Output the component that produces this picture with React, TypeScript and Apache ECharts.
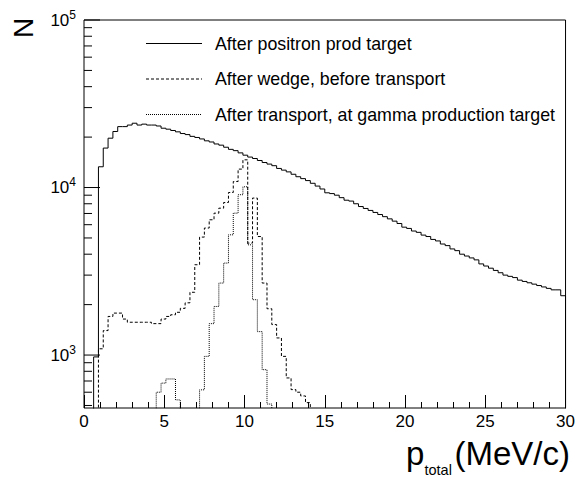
import React, { useEffect, useRef } from "react";
import * as echarts from "echarts";

// ---- data (bin width 0.3 MeV/c, bins start at 0) ----
const BIN_WIDTH = 0.3;

// "After positron prod target": first bin index 2 (0.6 MeV/c)
const positronStart = 2;
const positronValues = [
  975, 13300, 17200, 19700, 21600, 23100, 23100, 23600, 24200, 23600,
  23900, 23600, 23600, 23300, 22600, 22300, 21900, 21500, 21000, 20700,
  20200, 19900, 19500, 19000, 18700, 18200, 17900, 17400, 16900, 16600,
  16100, 15600, 15200, 14900, 14500, 14100, 13800, 13500, 13000, 12700,
  12400, 12000, 11600, 11300, 11000, 10600, 10200, 9800, 9300, 9200,
  9000, 8700, 8400, 8300, 8000, 7700, 7500, 7300, 7100, 6900,
  6700, 6500, 6300, 6100, 5800, 5700, 5500, 5400, 5200, 5100,
  4900, 4800, 4600, 4500, 4300, 4200, 4000, 3900, 3800, 3700,
  3500, 3400, 3300, 3200, 3100, 3000, 2950, 2900, 2800, 2750,
  2700, 2650, 2600, 2550, 2500, 2450, 2450, 2260,
];

// "After wedge, before transport": first bin index 3 (0.9 MeV/c)
const wedgeStart = 3;
const wedgeValues = [
  1090, 1400, 1700, 1780, 1780, 1640, 1570, 1570, 1570, 1570,
  1570, 1540, 1540, 1640, 1700, 1740, 1800, 1900, 2050, 2370,
  3460, 5060, 5730, 6420, 7030, 7530, 8140, 9340, 10860, 12880,
  14630, 4660, 8650, 5100, 2690, 1890, 1520, 1265, 982, 730,
  622, 600, 570, 520,
];

// "After transport, at gamma production target": first bin index 15 (4.5 MeV/c)
const transportStart = 15;
const transportValues = [
  600, 680, 720, 720, 540, 0, 0, 0, 0, 620,
  982, 1540, 1950, 2690, 3540, 5220, 7030, 9060, 10100, 4550,
  2140, 1380, 818, 510,
];

const seriesNames = [
  "After positron prod target",
  "After wedge, before transport",
  "After transport, at gamma production target",
];

const yMajorTicks = [1000, 10000, 100000];
const yMinorTicks = [
  500, 600, 700, 800, 900,
  2000, 3000, 4000, 5000, 6000, 7000, 8000, 9000,
  20000, 30000, 40000, 50000, 60000, 70000, 80000, 90000,
];

const FONT = "'Liberation Sans', Arial, Helvetica, sans-serif";
const FLOOR = 1; // stands for empty bins on the log axis (drawn below the frame)

function stepPoints(start: number, values: number[]): number[][] {
  const pts: number[][] = [];
  const x0 = +(start * BIN_WIDTH).toFixed(4);
  pts.push([x0, FLOOR]);
  values.forEach((v, i) => {
    pts.push([+((start + i) * BIN_WIDTH).toFixed(4), v > 0 ? v : FLOOR]);
  });
  pts.push([+((start + values.length) * BIN_WIDTH).toFixed(4), FLOOR]);
  return pts;
}

export default function App() {
  const ref = useRef<HTMLDivElement>(null);

  useEffect(() => {
    if (!ref.current) return;
    const chart = echarts.init(ref.current, undefined, { renderer: "svg" });

    const tickData = [
      ...yMajorTicks.map((v) => [0, v, 1]),
      ...yMinorTicks.map((v) => [0, v, 0]),
    ];

    const lineBase = { type: "line", step: "end", symbol: "none", clip: true, silent: true };
    const legendY = [43.5, 79, 114.5];
    const txt = (text: string, x: number, y: number, size: number, align = "left", rotation = 0) => ({
      type: "text",
      x,
      y,
      rotation,
      style: { text, fontSize: size, fontFamily: FONT, fill: "#000", align, verticalAlign: "middle" },
    });

    const option: any = {
      animation: false,
      backgroundColor: "#fff",
      grid: {
        left: 84,
        top: 20,
        right: 8,
        bottom: 70,
        show: true,
        borderColor: "#000",
        borderWidth: 1,
        backgroundColor: "transparent",
      },
      xAxis: {
        type: "value",
        min: 0,
        max: 30,
        interval: 5,
        axisLine: { show: false },
        splitLine: { show: false },
        axisTick: { show: true, inside: true, length: 13, lineStyle: { color: "#000" } },
        minorTick: { show: true, splitNumber: 5, length: 6, lineStyle: { color: "#000" } },
        axisLabel: { fontSize: 17, color: "#000", fontFamily: FONT, margin: 5 },
      },
      yAxis: {
        type: "log",
        logBase: 10,
        min: 483,
        max: 100000,
        axisLine: { show: false },
        splitLine: { show: false },
        axisTick: { show: false },
        axisLabel: {
          margin: 8,
          color: "#000",
          fontFamily: FONT,
          formatter: (v: number) => {
            const l = Math.log10(v);
            const e = Math.round(l);
            if (Math.abs(l - e) > 1e-6) return "";
            return `{b|10}{s|${e}}`;
          },
          rich: {
            b: { fontSize: 17, fontFamily: FONT, color: "#000", verticalAlign: "bottom" },
            s: {
              fontSize: 12,
              lineHeight: 12,
              fontFamily: FONT,
              color: "#000",
              verticalAlign: "bottom",
              padding: [0, 0, 8, 0],
            },
          },
        },
      },
      graphic: [
        txt("N", 23, 28, 28, "center", Math.PI / 2),
        // x-axis title: p_total (MeV/c)
        txt("p", 406, 453, 33),
        txt("total", 424.5, 470, 14.5),
        txt("(MeV/c)", 570, 453, 33, "right"),
        // legend
        ...seriesNames.map((name, i) => ({
          type: "group",
          children: [
            {
              type: "line",
              shape: { x1: 146, y1: legendY[i], x2: 202, y2: legendY[i] },
              style: {
                stroke: "#000",
                lineWidth: 1,
                lineDash: i === 0 ? null : i === 1 ? [3, 2] : [1, 1],
              },
            },
            txt(name, 215, legendY[i], 17.8),
          ],
        })),
      ],
      series: [
        {
          ...lineBase,
          name: seriesNames[0],
          data: stepPoints(positronStart, positronValues),
          lineStyle: { color: "#000", width: 1, type: "solid" },
        },
        {
          ...lineBase,
          name: seriesNames[1],
          data: stepPoints(wedgeStart, wedgeValues),
          lineStyle: { color: "#000", width: 1, type: [3, 2] },
        },
        {
          ...lineBase,
          name: seriesNames[2],
          data: stepPoints(transportStart, transportValues),
          lineStyle: { color: "#000", width: 1, type: [1, 1] },
        },
        {
          type: "custom",
          silent: true,
          clip: false,
          data: tickData,
          encode: { x: 0, y: 1 },
          renderItem: (_params: any, api: any) => {
            const v = api.value(1);
            const major = api.value(2);
            const pt = api.coord([0, v]);
            const len = major ? 16 : 8;
            return {
              type: "line",
              shape: { x1: pt[0], y1: pt[1], x2: pt[0] + len, y2: pt[1] },
              style: { stroke: "#000", lineWidth: 1 },
            };
          },
        },
      ],
    };

    chart.setOption(option);
    return () => chart.dispose();
  }, []);

  return (
    <div
      ref={ref}
      style={{ position: "fixed", left: 0, top: 0, width: 578, height: 478, background: "#fff" }}
    />
  );
}
